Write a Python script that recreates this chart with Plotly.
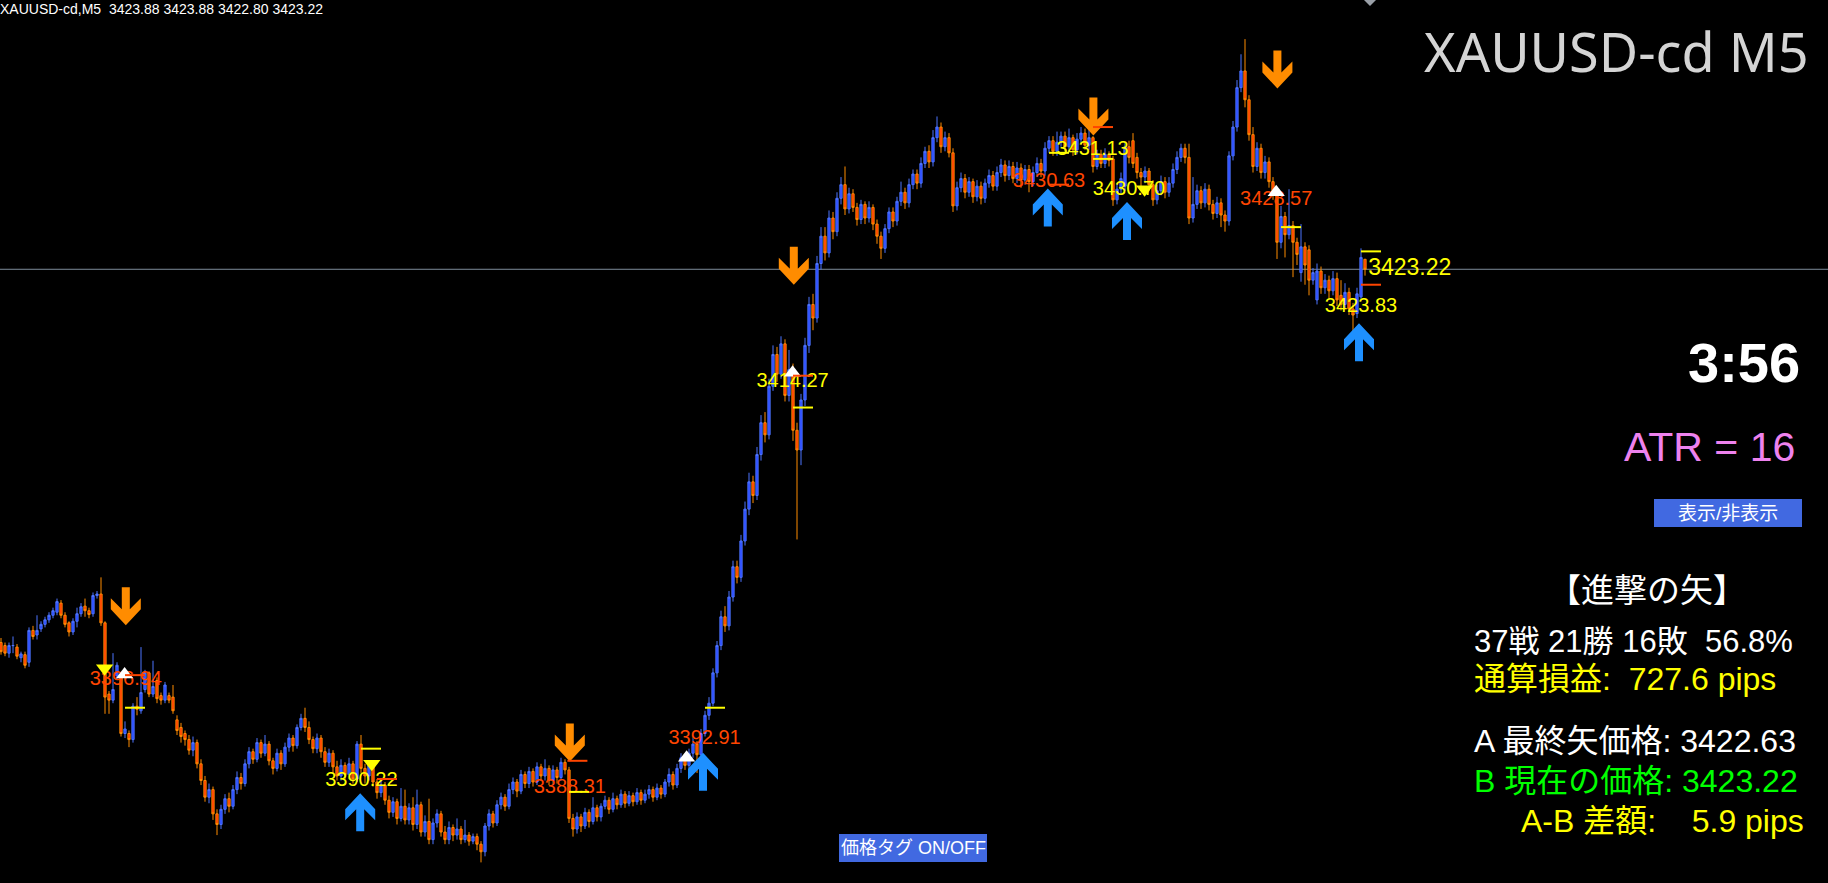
import plotly.graph_objects as go

# ---------------- data ----------------
opens = [3398.6,3398.4,3397.9,3398.4,3398.3,3397.6,3397.8,3397.3,3399.4,3399.1,
 3399.5,3399.8,3400.1,3400.4,3400.6,3401.2,3400.4,3399.9,3399.3,3400.0,
 3400.5,3401.0,3400.7,3400.5,3401.7,3401.8,3399.9,3395.2,3394.8,3396.4,
 3396.4,3392.6,3392.6,3392.2,3394.4,3394.1,3395.5,3396.6,3395.2,3396.1,
 3395.1,3394.8,3395.1,3395.0,3393.5,3393.0,3392.6,3392.2,3391.5,3392.0,
 3390.6,3389.5,3388.4,3388.9,3387.3,3386.6,3387.6,3388.3,3387.8,3388.9,
 3389.7,3389.3,3390.6,3391.4,3390.9,3392.0,3391.3,3391.9,3390.8,3390.3,
 3391.3,3390.6,3391.7,3392.3,3391.8,3393.0,3393.6,3393.0,3392.2,3391.6,
 3392.3,3391.4,3390.7,3391.3,3390.4,3389.8,3390.5,3389.9,3390.6,3389.6,
 3391.9,3390.3,3389.8,3390.5,3389.4,3388.7,3389.2,3388.2,3387.4,3388.1,
 3387.0,3387.8,3386.9,3387.7,3386.6,3387.9,3386.1,3386.8,3385.6,3386.7,
 3387.3,3386.1,3385.6,3386.4,3385.9,3386.3,3385.6,3385.9,3385.5,3385.8,
 3385.3,3384.8,3386.5,3387.3,3386.7,3387.9,3388.4,3387.8,3388.9,3389.4,
 3388.8,3389.9,3389.3,3390.1,3389.4,3390.4,3389.8,3390.3,3389.5,3390.2,
 3389.7,3390.7,3390.2,3387.0,3386.3,3387.1,3386.5,3387.4,3386.8,3387.7,
 3387.1,3387.8,3388.2,3387.6,3388.3,3387.9,3388.6,3388.0,3388.5,3388.1,
 3388.7,3388.2,3388.6,3388.9,3388.4,3389.0,3388.6,3389.4,3389.9,3389.2,
 3390.3,3391.0,3390.5,3391.3,3391.9,3391.2,3392.6,3393.8,3394.6,3396.6,
 3398.4,3400.3,3399.7,3401.6,3403.6,3402.9,3405.3,3407.4,3409.2,3408.3,
 3411.0,3413.1,3412.3,3415.5,3417.6,3416.3,3418.3,3414.9,3416.6,3412.6,
 3411.3,3414.6,3418.2,3420.9,3420.0,3423.6,3425.4,3424.3,3426.6,3425.7,
 3427.9,3428.8,3427.2,3428.2,3427.3,3426.5,3427.5,3426.6,3427.3,3426.2,
 3425.4,3424.6,3425.9,3427.0,3426.4,3427.7,3428.3,3427.6,3428.8,3429.5,
 3428.9,3430.2,3431.0,3430.3,3431.9,3432.6,3431.3,3431.9,3430.9,3427.4,
 3428.6,3429.2,3428.3,3429.0,3428.0,3428.7,3427.9,3428.9,3429.4,3428.7,
 3429.6,3430.1,3429.4,3430.0,3429.2,3429.9,3429.1,3429.8,3429.0,3429.6,
 3430.2,3429.7,3431.2,3431.7,3431.0,3431.6,3432.0,3431.3,3431.9,3431.1,
 3431.8,3432.2,3431.4,3431.9,3430.0,3430.8,3430.2,3430.8,3430.5,3427.8,
 3428.5,3428.7,3431.3,3431.7,3430.6,3429.6,3429.3,3429.7,3428.8,3427.8,
 3428.4,3429.0,3428.3,3428.9,3429.8,3430.6,3431.2,3430.6,3426.6,3427.5,
 3428.4,3427.6,3428.5,3427.5,3426.9,3427.6,3426.8,3426.4,3430.7,3432.6,
 3435.2,3436.3,3434.4,3432.1,3430.0,3431.2,3429.6,3430.3,3429.0,3428.2,
 3425.0,3426.7,3425.5,3426.1,3425.0,3423.0,3424.7,3424.5,3422.5,3421.2,
 3423.1,3422.0,3422.5,3421.8,3422.6,3421.5,3420.9,3421.7,3420.6,3420.3,
 3421.4,3423.88]

highs = [3398.9,3398.6,3398.6,3399.0,3398.5,3398.0,3398.0,3399.6,3399.7,3400.4,
 3400.0,3400.3,3400.6,3400.9,3401.5,3401.4,3400.6,3400.0,3400.2,3400.9,
 3401.2,3401.5,3400.9,3401.9,3402.0,3402.9,3400.0,3395.4,3397.9,3397.3,
 3396.6,3393.4,3392.8,3394.6,3395.0,3398.3,3396.8,3396.7,3397.4,3396.3,
 3395.3,3396.0,3395.3,3395.8,3393.8,3393.3,3392.8,3392.5,3392.4,3392.2,
 3390.9,3389.8,3389.3,3389.1,3387.6,3387.9,3388.6,3388.7,3389.2,3390.1,
 3390.0,3390.9,3391.7,3391.6,3392.3,3392.2,3392.5,3392.1,3391.0,3391.6,
 3391.5,3392.0,3392.6,3392.5,3393.2,3393.9,3394.3,3393.4,3392.4,3392.6,
 3392.5,3391.7,3391.6,3391.5,3390.8,3390.9,3390.7,3391.0,3390.8,3392.1,
 3392.5,3390.6,3390.8,3390.7,3389.6,3389.6,3389.4,3388.5,3388.4,3388.3,
 3389.0,3388.9,3388.0,3388.4,3388.9,3388.1,3387.2,3388.3,3387.0,3387.6,
 3387.5,3386.5,3386.8,3386.6,3387.0,3386.5,3386.9,3386.1,3386.0,3386.0,
 3385.5,3386.7,3387.6,3387.5,3388.2,3388.7,3388.6,3389.3,3389.7,3389.6,
 3390.2,3390.1,3390.4,3390.3,3390.7,3390.6,3390.9,3390.5,3390.5,3390.4,
 3391.0,3390.9,3390.4,3387.3,3387.4,3387.3,3387.7,3387.6,3388.4,3387.9,
 3388.0,3388.5,3388.4,3388.7,3388.5,3388.9,3388.8,3388.8,3388.7,3389.0,
 3388.9,3388.9,3389.2,3389.1,3389.3,3389.2,3389.6,3390.3,3390.1,3390.6,
 3391.3,3391.3,3391.6,3392.4,3392.1,3392.9,3394.1,3395.0,3396.9,3398.7,
 3400.7,3401.0,3402.0,3404.0,3404.0,3405.7,3407.9,3409.8,3409.6,3411.5,
 3413.6,3413.8,3416.0,3418.2,3418.1,3418.8,3418.6,3417.9,3417.0,3413.1,
 3415.0,3418.7,3421.4,3421.6,3424.1,3426.0,3426.0,3427.1,3427.0,3428.3,
 3429.3,3430.0,3428.6,3428.5,3427.6,3427.8,3427.7,3427.7,3427.5,3426.5,
 3425.7,3426.2,3427.3,3427.3,3428.0,3429.0,3428.6,3429.2,3429.8,3429.8,
 3430.6,3431.3,3431.4,3432.4,3433.3,3432.9,3432.3,3432.2,3431.2,3429.0,
 3429.6,3429.5,3429.3,3429.2,3429.1,3429.0,3429.2,3429.8,3429.7,3430.0,
 3430.5,3430.4,3430.4,3430.3,3430.3,3430.2,3430.1,3430.1,3430.0,3430.6,
 3430.5,3431.6,3432.0,3432.0,3432.3,3432.3,3432.3,3432.5,3432.1,3432.2,
 3432.6,3432.5,3432.4,3432.0,3431.1,3431.1,3431.2,3431.0,3430.7,3428.9,
 3429.6,3431.6,3431.7,3432.2,3430.9,3429.9,3430.0,3429.9,3429.1,3428.8,
 3429.4,3429.3,3429.3,3430.2,3431.0,3431.5,3431.5,3431.5,3429.3,3428.8,
 3428.7,3428.9,3428.8,3427.8,3428.0,3427.9,3427.1,3431.0,3433.0,3435.7,
 3437.4,3438.4,3434.7,3432.6,3431.6,3431.5,3430.7,3430.6,3429.3,3428.5,
 3427.4,3427.0,3428.5,3426.4,3425.3,3426.2,3425.0,3424.8,3423.3,3423.6,
 3423.4,3422.9,3422.8,3423.1,3423.0,3422.5,3422.3,3422.0,3421.0,3422.0,
 3424.6,3423.88]

lows = [3397.8,3397.7,3397.6,3397.9,3397.5,3397.3,3396.9,3397.0,3398.8,3398.8,
 3399.3,3399.6,3399.9,3400.2,3400.4,3400.2,3399.6,3399.0,3399.1,3399.6,
 3400.3,3400.3,3400.2,3400.3,3401.5,3399.7,3393.9,3393.9,3394.6,3396.2,
 3392.4,3392.3,3391.7,3392.0,3393.8,3393.9,3395.3,3395.0,3395.0,3394.6,
 3394.5,3394.6,3394.6,3393.9,3392.5,3392.0,3391.8,3391.2,3391.1,3390.3,
 3389.2,3388.1,3388.0,3386.9,3385.9,3386.3,3387.3,3387.4,3387.6,3388.6,
 3388.9,3389.1,3390.3,3390.6,3390.7,3391.0,3391.1,3390.5,3389.9,3390.1,
 3390.2,3390.4,3391.4,3391.4,3391.6,3392.8,3392.7,3391.9,3391.3,3391.3,
 3391.0,3390.4,3390.4,3390.0,3389.5,3389.5,3389.6,3389.6,3389.3,3389.4,
 3390.0,3389.3,3389.5,3389.1,3388.3,3388.4,3387.9,3387.0,3387.1,3386.6,
 3386.8,3386.6,3386.6,3386.2,3386.3,3385.8,3385.8,3385.3,3385.3,3386.4,
 3385.8,3385.3,3385.3,3385.5,3385.6,3385.3,3385.4,3385.2,3385.3,3384.9,
 3384.1,3384.5,3386.2,3386.4,3386.5,3387.6,3387.5,3387.6,3388.6,3388.4,
 3388.6,3389.0,3389.0,3389.1,3389.2,3389.5,3389.5,3389.2,3389.2,3389.3,
 3389.5,3389.9,3386.7,3385.8,3386.0,3386.1,3386.3,3386.4,3386.6,3386.8,
 3386.8,3387.6,3387.3,3387.4,3387.6,3387.7,3387.7,3387.8,3387.8,3387.9,
 3387.9,3388.0,3388.3,3388.1,3388.2,3388.3,3388.4,3389.1,3388.9,3389.0,
 3390.0,3390.2,3390.3,3391.0,3390.0,3391.0,3392.4,3393.5,3394.4,3396.3,
 3398.1,3399.3,3399.4,3401.3,3402.5,3402.6,3405.0,3407.0,3407.8,3408.0,
 3410.6,3411.8,3412.0,3415.2,3415.8,3416.0,3414.5,3414.5,3411.9,3405.4,
 3410.3,3414.2,3417.7,3419.2,3419.7,3423.2,3423.8,3424.0,3425.2,3425.4,
 3427.5,3426.8,3426.9,3427.0,3426.1,3426.2,3426.2,3426.3,3425.8,3424.9,
 3423.9,3424.3,3425.6,3426.0,3426.1,3427.4,3427.2,3427.3,3428.5,3428.5,
 3428.6,3429.9,3429.9,3430.0,3431.6,3430.9,3431.0,3430.6,3427.0,3427.1,
 3428.3,3427.9,3428.0,3427.6,3427.7,3427.5,3427.6,3428.6,3428.4,3428.4,
 3429.3,3429.0,3429.1,3428.9,3428.9,3428.6,3428.8,3428.3,3428.7,3429.3,
 3429.3,3429.4,3430.9,3430.7,3430.7,3431.3,3431.0,3431.0,3430.7,3430.8,
 3431.5,3431.1,3431.1,3429.6,3429.8,3429.9,3429.9,3430.0,3427.4,3427.5,
 3428.2,3428.4,3430.2,3429.9,3429.2,3428.5,3428.9,3428.4,3427.4,3427.5,
 3428.1,3427.9,3428.0,3428.6,3429.5,3430.3,3430.2,3426.2,3426.3,3427.2,
 3427.2,3427.3,3427.1,3426.5,3426.6,3426.0,3425.7,3426.1,3430.4,3432.3,
 3434.9,3433.9,3431.7,3429.6,3429.7,3429.2,3429.2,3428.6,3427.8,3423.9,
 3424.6,3424.0,3425.2,3422.7,3423.5,3422.4,3422.2,3421.5,3422.2,3420.9,
 3421.6,3421.6,3421.3,3421.5,3420.8,3420.5,3420.6,3420.2,3419.1,3420.0,
 3421.2,3422.80]

closes = [3398.0,3397.9,3398.4,3398.4,3397.7,3397.85,3397.1,3399.4,3399.0,3399.4,
 3399.8,3400.1,3400.4,3400.7,3401.3,3400.4,3399.8,3399.3,3400.0,3400.5,
 3400.96,3400.7,3400.45,3401.7,3401.8,3399.9,3395.0,3394.8,3395.5,3397.1,
 3392.6,3392.9,3392.2,3394.4,3394.2,3395.3,3396.6,3395.2,3395.7,3394.9,
 3394.8,3395.8,3394.8,3394.1,3392.8,3392.4,3392.2,3391.5,3392.0,3390.6,
 3389.5,3388.4,3388.9,3387.3,3386.6,3387.6,3388.3,3387.8,3388.9,3389.7,
 3389.3,3390.6,3391.4,3390.9,3392.0,3391.3,3391.9,3390.8,3390.3,3391.3,
 3390.6,3391.7,3392.3,3391.8,3393.0,3393.6,3393.0,3392.2,3391.6,3392.3,
 3391.4,3390.7,3391.3,3390.4,3389.8,3390.5,3389.9,3390.6,3389.6,3391.9,
 3390.3,3389.8,3390.5,3389.4,3388.7,3389.2,3388.2,3387.4,3388.1,3387.0,
 3387.8,3386.9,3387.7,3386.6,3387.9,3386.1,3386.8,3385.6,3386.7,3387.3,
 3386.1,3385.6,3386.4,3385.9,3386.3,3385.6,3385.9,3385.5,3385.8,3385.3,
 3384.8,3386.5,3387.3,3386.7,3387.9,3388.4,3387.8,3388.9,3389.4,3388.8,
 3389.9,3389.3,3390.1,3389.4,3390.4,3389.8,3390.3,3389.5,3390.2,3389.7,
 3390.7,3390.2,3387.0,3386.3,3387.1,3386.5,3387.4,3386.8,3387.7,3387.1,
 3387.8,3388.2,3387.6,3388.3,3387.9,3388.6,3388.0,3388.5,3388.1,3388.7,
 3388.2,3388.6,3388.9,3388.4,3389.0,3388.6,3389.4,3389.9,3389.2,3390.3,
 3391.0,3390.5,3391.3,3391.9,3391.2,3392.6,3393.8,3394.6,3396.6,3398.4,
 3400.3,3399.7,3401.6,3403.6,3402.9,3405.3,3407.4,3409.2,3408.3,3411.0,
 3413.1,3412.3,3415.5,3417.6,3416.3,3418.3,3414.9,3416.6,3412.6,3411.3,
 3414.6,3418.2,3420.9,3420.0,3423.6,3425.4,3424.3,3426.6,3425.7,3427.9,
 3428.8,3427.2,3428.2,3427.3,3426.5,3427.5,3426.6,3427.3,3426.2,3425.4,
 3424.6,3425.9,3427.0,3426.4,3427.7,3428.3,3427.6,3428.8,3429.5,3428.9,
 3430.2,3431.0,3430.3,3431.9,3432.6,3431.3,3431.9,3430.9,3427.4,3428.6,
 3429.2,3428.3,3429.0,3428.0,3428.7,3427.9,3428.9,3429.4,3428.7,3429.6,
 3430.1,3429.4,3430.0,3429.2,3429.9,3429.1,3429.8,3429.0,3429.6,3430.2,
 3429.7,3431.2,3431.7,3431.0,3431.6,3432.0,3431.3,3431.9,3431.1,3431.8,
 3432.2,3431.4,3431.9,3430.0,3430.8,3430.2,3430.8,3430.4,3427.8,3428.5,
 3429.2,3431.3,3430.6,3430.2,3429.6,3429.3,3429.7,3428.8,3427.8,3428.4,
 3429.0,3428.3,3428.9,3429.8,3430.6,3431.2,3430.6,3426.6,3427.5,3428.4,
 3427.6,3428.5,3427.5,3426.9,3427.6,3426.8,3426.4,3430.7,3432.6,3435.2,
 3436.3,3434.4,3432.1,3430.0,3431.2,3429.6,3430.3,3429.0,3428.2,3425.0,
 3426.7,3425.5,3426.1,3425.0,3424.2,3424.7,3423.5,3422.5,3423.0,3423.1,
 3422.0,3422.5,3421.8,3422.6,3421.2,3420.9,3421.7,3420.6,3420.2,3421.6,
 3424.0,3423.22]

bars = list(range(len(closes)))
current_price = 3423.22

# signal arrows (bar index, price)
down_arrow_x = [31.2, 142.2, 198.2, 273.1, 319.1]
down_arrow_p = [3401.0, 3392.0, 3423.45, 3433.3, 3436.4]
up_arrow_x = [89.8, 175.5, 261.7, 281.5, 339.5]
up_arrow_p = [3387.4, 3390.07, 3427.3, 3426.4, 3418.4]

# small triangles
tri_down_x = [25.9, 92.7, 285.9]
tri_down_p = [3396.9, 3390.6, 3428.5]
tri_up_x = [30.9, 171.4, 197.9, 318.8]
tri_up_p = [3396.5, 3391.0, 3416.4, 3428.3]

# price tags
tag_text = ["3396.94", "3390.22", "3388.31", "3392.91", "3414.27",
            "3430.63", "3431.13", "3430.70", "3428.57", "3423.83"]
tag_x = [31.2, 90.1, 142.2, 175.9, 197.9, 262.0, 272.9, 282.0, 318.8, 340.0]
tag_p = [3396.14, 3389.5, 3388.99, 3392.22, 3415.8, 3428.99, 3431.07, 3428.45, 3427.76, 3420.76]
tag_kind = ["r", "y", "r", "r", "y", "r", "y", "y", "r", "y"]

# short level marks
mark_x = [31, 31, 90, 94, 141.6, 142, 176, 198, 198, 262, 262, 273, 273, 320, 340, 340]
mark_p = [3394.3, 3396.45, 3391.6, 3389.6, 3390.8, 3388.75, 3394.3, 3416.2, 3414.1,
          3430.9, 3428.8, 3432.6, 3430.5, 3426.0, 3424.4, 3422.2]
mark_kind = ["y", "r", "y", "r", "r", "y", "y", "r", "y", "y", "r", "r", "y", "y", "y", "r"]

# ---------------- styling ----------------
W, H = 1828, 883
X_RANGE = [-0.25, 456.75]
Y_RANGE = [3382.74, 3440.98]
YEL = "#FFFF00"
RED = "#FF4500"
kind_color = {"y": YEL, "r": RED}
ARIAL = "Liberation Sans, Arial, Noto Sans CJK JP"
JP = "Liberation Sans, Noto Sans CJK JP"

fig = go.Figure()
fig.add_trace(go.Candlestick(
    x=bars, open=opens, high=highs, low=lows, close=closes,
    increasing=dict(line=dict(color="#4D74FF", width=1), fillcolor="#2444FF"),
    decreasing=dict(line=dict(color="#FF8C00", width=1), fillcolor="#FF2A00"),
    whiskerwidth=0, hoverinfo="skip", showlegend=False))

# price tags as text
fig.add_trace(go.Scatter(
    x=tag_x, y=tag_p, mode="text", text=tag_text,
    textfont=dict(family=ARIAL, size=20, color=[kind_color[k] for k in tag_kind]),
    textposition="middle center", hoverinfo="skip", showlegend=False))
fig.add_trace(go.Scatter(
    x=[341.8], y=[current_price], mode="text", text=[f"{current_price:.2f}"],
    textfont=dict(family=ARIAL, size=23, color=YEL),
    textposition="middle right", hoverinfo="skip", showlegend=False))

# triangles
fig.add_trace(go.Scatter(
    x=tri_down_x, y=tri_down_p, mode="markers",
    marker=dict(symbol="triangle-down", size=15, color=YEL, line=dict(width=0)),
    hoverinfo="skip", showlegend=False))
fig.add_trace(go.Scatter(
    x=tri_up_x, y=tri_up_p, mode="markers",
    marker=dict(symbol="triangle-up", size=15, color="#FFFFFF", line=dict(width=0)),
    hoverinfo="skip", showlegend=False))

shapes = []
# current price line
shapes.append(dict(type="line", xref="paper", yref="y", x0=0, x1=1,
                   y0=current_price, y1=current_price,
                   line=dict(color="#7E8C9A", width=1), layer="below"))

down_pts = [(-4, 19), (4, 19), (4, -3), (15, 8), (15, -3), (0, -19),
            (-15, -3), (-15, 8), (-4, -3)]


def arrow_path(pts, flip):
    s = 1 if not flip else -1
    d = "M " + " L ".join(f"{x},{s * y}" for x, y in pts) + " Z"
    return d


for xa, pa in zip(down_arrow_x, down_arrow_p):
    shapes.append(dict(type="path", xref="x", yref="y", xsizemode="pixel",
                       ysizemode="pixel", xanchor=xa, yanchor=pa,
                       path=arrow_path(down_pts, False),
                       fillcolor="#FF8C00", line=dict(width=0), layer="above"))
for xa, pa in zip(up_arrow_x, up_arrow_p):
    shapes.append(dict(type="path", xref="x", yref="y", xsizemode="pixel",
                       ysizemode="pixel", xanchor=xa, yanchor=pa,
                       path=arrow_path(down_pts, True),
                       fillcolor="#1E90FF", line=dict(width=0), layer="above"))

for xm, pm, k in zip(mark_x, mark_p, mark_kind):
    shapes.append(dict(type="line", xref="x", yref="y", x0=xm, x1=xm + 5,
                       y0=pm, y1=pm, line=dict(color=kind_color[k], width=2),
                       layer="above"))


def pxr(x):
    return x / W


def pyr(y):
    return 1 - y / H


# buttons
for (x0, y0, x1, y1) in [(1654, 499, 1802, 527), (839, 834, 987, 862)]:
    shapes.append(dict(type="rect", xref="paper", yref="paper",
                       x0=pxr(x0), x1=pxr(x1), y0=pyr(y1), y1=pyr(y0),
                       fillcolor="#4169E1", line=dict(width=0), layer="above"))
# chart-shift marker at top
shapes.append(dict(type="path", xref="paper", yref="paper",
                   path=f"M {pxr(1364)},1 L {pxr(1376)},1 L {pxr(1370)},{pyr(6)} Z",
                   fillcolor="#9AA0A8", line=dict(width=0)))

ann = []


def text(t, x, y, size, color, family=ARIAL, xanchor="left", bold=False):
    if bold:
        t = f"<b>{t}</b>"
    ann.append(dict(text=t, x=pxr(x), y=pyr(y), xref="paper", yref="paper",
                    xanchor=xanchor, yanchor="middle", showarrow=False,
                    font=dict(family=family, size=size, color=color)))


NB = "\u00a0"
text(f"XAUUSD-cd,M5{NB}{NB}3423.88 3423.88 3422.80 3423.22", -2, 9, 14, "#FFFFFF")
text("XAUUSD-cd M5", 1811, 51, 54, "#D4D4D4", family="Noto Sans", xanchor="right")
text("3:56", 1802, 362, 56, "#FFFFFF", xanchor="right", bold=True)
text("ATR = 16", 1797, 447, 41, "#EE82EE", xanchor="right")
text("表示/非表示", 1728, 513, 19, "#FFFFFF", family=JP, xanchor="center")
text("【進撃の矢】", 1647, 590, 33, "#FFFFFF", family=JP, xanchor="center")
text(f"37戦 21勝 16敗{NB}{NB}56.8%", 1472, 641, 31, "#FFFFFF", family=JP)
text(f"通算損益:{NB}{NB}727.6 pips", 1472, 679, 32, YEL, family=JP)
text("A 最終矢価格: 3422.63", 1472, 741, 32, "#FFFFFF", family=JP)
text("B 現在の価格: 3423.22", 1472, 781, 32, "#00FF00", family=JP)
text(f"A-B 差額:{NB}{NB}{NB}{NB}5.9 pips", 1519, 821, 32, YEL, family=JP)
text("価格タグ ON/OFF", 913, 848, 18, "#FFFFFF", family=JP, xanchor="center")

fig.update_layout(
    width=W, height=H, margin=dict(l=0, r=0, t=0, b=0, pad=0),
    paper_bgcolor="#000000", plot_bgcolor="#000000",
    showlegend=False, boxgap=0.2,
    xaxis=dict(range=X_RANGE, visible=False, fixedrange=True,
               rangeslider=dict(visible=False)),
    yaxis=dict(range=Y_RANGE, visible=False, fixedrange=True),
    shapes=shapes, annotations=ann)

fig.write_html(
    "out.html", config={"displayModeBar": False},
    post_script=("document.body.style.margin='0';"
                 "document.body.style.backgroundColor='#000';"
                 "document.documentElement.style.backgroundColor='#000';"
                 "document.body.style.overflow='hidden';"))
